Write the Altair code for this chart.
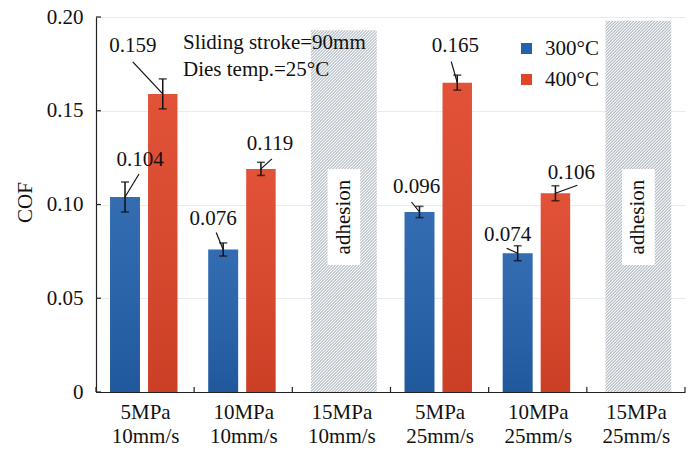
import altair as alt
import pandas as pd

# ---- data -------------------------------------------------------------
pressures = ["5MPa", "10MPa", "15MPa", "5MPa", "10MPa", "15MPa"]
speeds = ["10mm/s", "10mm/s", "10mm/s", "25mm/s", "25mm/s", "25mm/s"]
series = ["300°C", "400°C"]
cof_300 = [0.104, 0.076, None, 0.096, 0.074, None]
cof_400 = [0.159, 0.119, None, 0.165, 0.106, None]
err_300 = [0.008, 0.0035, None, 0.003, 0.004, None]
err_400 = [0.008, 0.0035, None, 0.004, 0.004, None]
adhesion_top = [None, None, 0.193, None, None, 0.198]
y_ticks = [0, 0.05, 0.10, 0.15, 0.20]
notes = ["Sliding stroke=90mm", "Dies temp.=25°C"]

# ---- layout / style ---------------------------------------------------
W, H = 589, 375
Y_MAX = 0.20
N = len(pressures)
PX_X = W / N          # pixels per category
PX_Y = H / Y_MAX      # pixels per COF unit
FONT = "Liberation Serif"
FS = 21
INK = "#111111"
BLUE, RED = "#2461ac", "#df4529"
BAR_SLOT = {series[0]: (0.143, 0.448), series[1]: (0.53, 0.83)}
HATCH_SLOT = (0.19, 0.86)
ADH_Y = 0.0933
NOTE_POS = [(87, 26), (87, 53)]
# value label offsets in px: (text dx, text dy, leader start dx, leader start dy)
LABEL_OFFSETS = [(15, -37, 14, -23), (-30, -48, -30, -32),
                 (-10, -31, -7, -17), (9, -25, 11, -10),
                 (-3, -25, -8, -10), (-2, -37, -6, -21),
                 (-10, -18, -11, -5), (16, -20, 22, -8)]

rows = []
for i in range(N):
    for s, vals, errs in ((series[0], cof_300, err_300), (series[1], cof_400, err_400)):
        if vals[i] is None:
            continue
        a, b = BAR_SLOT[s]
        rows.append(dict(series=s, cof=vals[i], lo=vals[i] - errs[i], hi=vals[i] + errs[i],
                         x0=i + a, x1=i + b, xc=i + (a + b) / 2, label=f"{vals[i]:.3f}"))
bars = pd.DataFrame(rows)
off = pd.DataFrame(LABEL_OFFSETS, columns=["dx", "dy", "sx", "sy"])
bars["lx"] = bars["xc"] + off["dx"] / PX_X
bars["ly"] = bars["cof"] - off["dy"] / PX_Y
bars["sx"] = bars["xc"] + off["sx"] / PX_X
bars["sy"] = bars["cof"] - off["sy"] / PX_Y

xs = alt.Scale(domain=[0, N], nice=False, zero=False)
ys = alt.Scale(domain=[0, Y_MAX], nice=False)

label_expr = "[" + ",".join(f"['{p}','{s}']" for p, s in zip(pressures, speeds)) + "][floor(datum.value)]"

X_AX = alt.X("x0:Q", scale=xs, title=None, axis=alt.Axis(
    values=[i + 0.5 for i in range(N)], labelExpr=label_expr, ticks=False, grid=False,
    labelFont=FONT, labelFontSize=FS, labelColor=INK,
    labelPadding=9, labelLineHeight=24, labelBaseline="top"))
Y_AX = alt.Y("cof:Q", scale=ys, title="COF", axis=alt.Axis(
    values=y_ticks, labelExpr="datum.value == 0 ? '0' : format(datum.value, '.2f')",
    ticks=False, grid=True, labelPadding=13,
    labelFont=FONT, labelFontSize=FS, labelColor=INK,
    titleFont=FONT, titleFontSize=FS, titleFontWeight="normal", titleColor=INK,
    titleAngle=-90, titleX=-71, titleY=185, titleAlign="center", titleBaseline="middle"))


def qx(f):
    return alt.X(f, scale=xs, title=None)


def qy(f):
    return alt.Y(f, scale=ys, title="COF")


base = alt.Chart(bars)

bar_layer = base.mark_rect().encode(
    x=X_AX, x2="x1:Q", y=Y_AX, y2=alt.datum(0),
    color=alt.Color("series:N", scale=alt.Scale(domain=series, range=[BLUE, RED]),
                    legend=alt.Legend(title=None, orient="none", legendX=420, legendY=21,
                                      symbolType="square", symbolSize=121, symbolStrokeWidth=0,
                                      labelFont=FONT, labelFontSize=FS, labelColor=INK,
                                      labelOffset=8, rowPadding=9, padding=0)))

shade = base.mark_rect(fill=alt.Gradient(
    gradient="linear", x1=0, y1=0, x2=0, y2=1,
    stops=[alt.GradientStop(offset=0, color="rgba(255,255,255,0.07)"),
           alt.GradientStop(offset=1, color="rgba(0,0,0,0.09)")])).encode(
    x=qx("x0:Q"), x2="x1:Q", y=qy("cof:Q"), y2=alt.datum(0))

err_line = base.mark_rule(color=INK, strokeWidth=1.5).encode(
    x=qx("xc:Q"), y=qy("lo:Q"), y2="hi:Q")
cap_lo = base.mark_tick(orient="horizontal", size=8, thickness=1.6, color=INK).encode(
    x=qx("xc:Q"), y=qy("lo:Q"))
cap_hi = base.mark_tick(orient="horizontal", size=8, thickness=1.6, color=INK).encode(
    x=qx("xc:Q"), y=qy("hi:Q"))

leaders = base.mark_rule(color=INK, strokeWidth=1.2).encode(
    x=qx("sx:Q"), y=qy("sy:Q"), x2="xc:Q", y2="cof:Q")
values = base.mark_text(font=FONT, fontSize=FS, color=INK, align="center",
                        baseline="middle").encode(x=qx("lx:Q"), y=qy("ly:Q"), text="label:N")


def hatch_fill(w, h, period=3.0, line="#aab3bd"):
    """Diagonal '/' hatching built as a striped linear gradient over a w x h box."""
    r = w / h
    k = h * (w + h) / (h * h + w * w)
    total = w + h
    stops = []
    j = 0
    while j * period <= total:
        stops.append(alt.GradientStop(offset=min(j * period / total, 1), color="#ffffff"))
        t2 = (j + 0.5) * period / total
        if t2 <= 1:
            stops.append(alt.GradientStop(offset=t2, color=line))
        j += 1
    return alt.Gradient(gradient="linear", x1=0, y1=0, x2=k * r, y2=k, stops=stops)


hatch_layers, box_layers, word_layers = [], [], []
for i, top in enumerate(adhesion_top):
    if top is None:
        continue
    a, b = HATCH_SLOT
    cell = pd.DataFrame({"x0": [i + a], "x1": [i + b], "top": [top],
                         "xm": [i + (a + b) / 2], "ym": [ADH_Y], "t": ["adhesion"]})
    c = alt.Chart(cell)
    hatch_layers.append(
        c.mark_rect(fill=hatch_fill((b - a) * PX_X, top * PX_Y)).encode(
            x=qx("x0:Q"), x2="x1:Q", y=qy("top:Q"), y2=alt.datum(0)))
    box_layers.append(
        c.mark_point(shape="M-0.34,-1H0.34V1H-0.34Z", size=96 * 96, filled=True,
                     fill="white", opacity=1, strokeWidth=0).encode(x=qx("xm:Q"), y=qy("ym:Q")))
    word_layers.append(
        c.mark_text(font=FONT, fontSize=FS, color=INK, angle=270, align="center",
                    baseline="middle").encode(x=qx("xm:Q"), y=qy("ym:Q"), text="t:N"))

note_layers = [
    alt.Chart(pd.DataFrame({"t": [t]})).mark_text(
        font=FONT, fontSize=FS, color=INK, align="left", baseline="middle").encode(
        x=alt.value(px), y=alt.value(py), text="t:N")
    for t, (px, py) in zip(notes, NOTE_POS)
]

# inward tick marks on both axes
xt = alt.Chart(pd.DataFrame({"b": list(range(N + 1))})).mark_rule(
    color="#222", strokeWidth=1.2).encode(x=qx("b:Q"), y=alt.value(H), y2=alt.value(H - 5))
yt = alt.Chart(pd.DataFrame({"v": y_ticks})).mark_rule(
    color="#222", strokeWidth=1.2).encode(y=qy("v:Q"), x=alt.value(0), x2=alt.value(5))

chart = alt.layer(
    bar_layer, *hatch_layers, shade, err_line, cap_lo, cap_hi, leaders, values,
    *box_layers, *word_layers, *note_layers, xt, yt
).properties(
    width=W, height=H,
    autosize=alt.AutoSizeParams(type="none"),
    padding={"left": 96, "top": 17, "right": 4, "bottom": 65},
).configure(background="white", font=FONT).configure_view(stroke=None).configure_axis(
    domainColor="#222", domainWidth=1.2, labelFont=FONT, labelFontSize=FS, labelColor=INK,
    titleFont=FONT, titleFontSize=FS, titleFontWeight="normal", titleColor=INK,
    gridColor="#e6ecf2", gridWidth=1).configure_legend(labelFont=FONT, labelFontSize=FS)

chart.save("out.html", embed_options={"renderer": "svg", "actions": False})
